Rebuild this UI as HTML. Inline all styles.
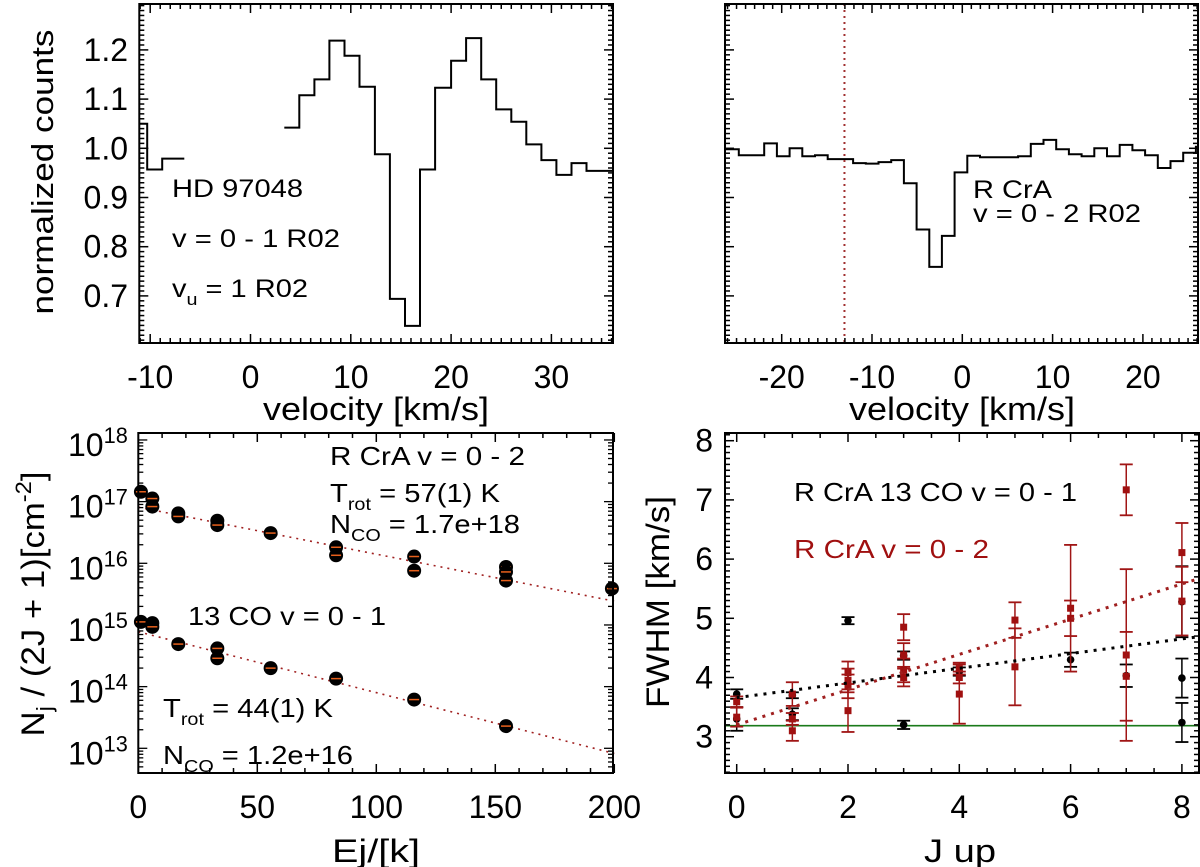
<!DOCTYPE html>
<html><head><meta charset="utf-8">
<style>
html,body{margin:0;padding:0;background:#fff;}
svg{display:block;font-family:"Liberation Sans",Arial,sans-serif;}
</style></head>
<body>
<svg id="fig" width="1200" height="867" viewBox="0 0 1200 867" xmlns="http://www.w3.org/2000/svg">
<g id="p1"></g>
<g id="p2"></g>
<g id="p3"></g>
<g id="p4"></g>
</svg>
<script>
// ---------- Panel 1 data (HD 97048) ----------
const p1SegAEdges = [-11.1, -10.3, -8.8, -6.6];
const p1SegAValues = [1.05, 0.957, 0.979];
const p1SegBEdges = [3.37, 4.87, 6.37, 7.87, 9.37, 10.87, 12.4, 13.9, 15.4, 16.9, 18.4, 20.0, 21.5, 23.0, 24.5, 26.0, 27.5, 29.0, 30.5, 32.0, 33.5, 36.1];
const p1SegBValues = [1.042, 1.108, 1.140, 1.219, 1.188, 1.125, 0.988, 0.694, 0.639, 0.957, 1.123, 1.178, 1.224, 1.140, 1.079, 1.054, 1.008, 0.976, 0.946, 0.970, 0.954];
const p1XTicks = [-10, 0, 10, 20, 30];
const p1YTicks = [0.7, 0.8, 0.9, 1.0, 1.1, 1.2];
// ---------- Panel 2 data (R CrA) ----------
const p2BinStart = -26.3;
const p2Values = [0.998, 0.986, 0.986, 1.010, 0.984, 1.0, 0.984, 0.986, 0.978, 0.978, 0.970, 0.969, 0.972, 0.976, 0.929, 0.835, 0.759, 0.822, 0.951, 0.985, 0.982, 0.982, 0.982, 0.984, 1.009, 1.017, 0.998, 0.988, 0.984, 1.0, 0.984, 1.007, 0.996, 0.986, 0.960, 0.974, 0.991, 1.003];
const p2BinEdgeFirst = -24.75;
const p2BinWidth = 1.406;
const p2MarkerV = -13.05;
const p2XTicks = [-20, -10, 0, 10, 20];
// ---------- Panel 3 data (rotation diagram) ----------
const p3UpperE = [1.1, 5.9, 5.9, 16.8, 16.8, 33.2, 33.2, 55.6, 83.1, 83.1, 115.9, 115.9, 154.5, 154.5, 154.5, 199];
const p3UpperLogN = [17.16, 17.05, 16.92, 16.81, 16.76, 16.69, 16.62, 16.49, 16.26, 16.13, 16.11, 15.88, 15.94, 15.86, 15.72, 15.59];
const p3LowerE = [1.1, 5.9, 5.9, 16.8, 33.2, 33.2, 55.6, 83.1, 115.9, 154.5];
const p3LowerLogN = [15.05, 15.03, 14.97, 14.69, 14.62, 14.46, 14.30, 14.13, 13.79, 13.36];
const p3UpperFit = [16.91, 57];   // intercept log10 N, Trot
const p3LowerFit = [14.89, 44];
const p3XTicks = [0, 50, 100, 150, 200];
const p3YDecades = [13, 14, 15, 16, 17, 18];
// ---------- Panel 4 data (FWHM vs J) ----------
const p4BlackJ = [0, 0, 1, 1, 2, 3, 3, 4, 6, 7, 8, 8, 8];
const p4BlackFwhm = [3.72, 3.30, 3.38, 3.70, 4.96, 3.20, 4.37, 4.10, 4.30, 4.03, 3.99, 3.24, 5.28];
const p4BlackErr = [0.08, 0.20, 0.10, 0.05, 0.06, 0.07, 0.07, 0.07, 0.12, 0.19, 0.33, 0.33, 0.60];
const p4RedJ = [0, 0, 1, 1, 1, 2, 2, 2, 2, 3, 3, 3, 3, 4, 4, 4, 5, 5, 6, 6, 7, 7, 7, 8, 8];
const p4RedFwhm = [3.59, 3.33, 3.72, 3.30, 3.10, 4.08, 3.95, 3.85, 3.44, 4.85, 4.38, 4.12, 4.00, 4.15, 4.00, 3.72, 4.97, 4.18, 5.17, 5.00, 7.17, 4.38, 4.02, 6.11, 5.29];
const p4RedErr = [0.09, 0.16, 0.20, 0.10, 0.17, 0.19, 0.20, 0.20, 0.36, 0.22, 0.20, 0.20, 0.15, 0.10, 0.10, 0.50, 0.30, 0.65, 1.07, 0.30, 0.43, 1.45, 0.75, 0.50, 0.58];
const p4BlackFit = [3.66, 0.124];  // intercept, slope
const p4RedFit = [3.20, 0.2975];
const p4Green = [3.186];
const p4XTicks = [0, 2, 4, 6, 8];
const p4YTicks = [3, 4, 5, 6, 7, 8];

const NS = "http://www.w3.org/2000/svg";
function mk(parent, tag, attrs, text){
  const e = document.createElementNS(NS, tag);
  for (const k in attrs) e.setAttribute(k, attrs[k]);
  if (text !== undefined) e.textContent = text;
  parent.appendChild(e);
  return e;
}
function lin(d0, d1, r0, r1){ return v => r0 + (v - d0) * (r1 - r0) / (d1 - d0); }

function frame(g, L, T, R, B){
  const f = mk(g, 'rect', {x:L, y:T, width:R-L, height:B-T, fill:'none', stroke:'#000', 'stroke-width':2});
  
  
}
function xticks(g, sx, T, B, lo, hi, major, minor, labels, labelY, fmt){
  const gt = mk(g, 'g', {});
  
  
  for (let v = Math.ceil(lo / minor) * minor; v <= hi + 1e-9; v += minor){
    const isMaj = Math.abs(v / major - Math.round(v / major)) < 1e-6;
    const len = isMaj ? 9 : 5; const x = sx(v);
    mk(gt, 'line', {x1:x, x2:x, y1:B, y2:B-len, stroke:'#000', 'stroke-width':1.5});
    mk(gt, 'line', {x1:x, x2:x, y1:T, y2:T+len, stroke:'#000', 'stroke-width':1.5});
  }
  labels.forEach(v => {
    const t = mk(gt, 'text', {x:sx(v), y:labelY, 'font-size':32, 'text-anchor':'middle'}, fmt ? fmt(v) : String(v));
    
    
  });
}
function yticks(g, sy, L, R, lo, hi, major, minor, labels, labelX, fmt){
  const gt = mk(g, 'g', {});
  
  
  for (let v = Math.ceil(lo / minor) * minor; v <= hi + 1e-9; v += minor){
    const isMaj = Math.abs(v / major - Math.round(v / major)) < 1e-6;
    const len = isMaj ? 9 : 5; const y = sy(v);
    mk(gt, 'line', {x1:L, x2:L+len, y1:y, y2:y, stroke:'#000', 'stroke-width':1.5});
    mk(gt, 'line', {x1:R, x2:R-len, y1:y, y2:y, stroke:'#000', 'stroke-width':1.5});
  }
  if (labels) labels.forEach(v => {
    const t = mk(gt, 'text', {x:labelX, y:sy(v)+11, 'font-size':32, 'text-anchor':'end'}, fmt ? fmt(v) : String(v));
    
    
  });
}
function stepPath(edges, vals, sx, sy){
  let d = '';
  for (let i = 0; i < vals.length; i++){
    const x0 = sx(edges[i]), x1 = sx(edges[i+1]), y = sy(vals[i]);
    d += (i === 0 ? 'M' : 'L') + x0.toFixed(1) + ',' + y.toFixed(1) + 'L' + x1.toFixed(1) + ',' + y.toFixed(1);
  }
  return d;
}
function label(g, x, y, size, parts, len, fill, name, anchor){
  const t = mk(g, 'text', {x:x, y:y, 'font-size':size, fill:fill || '#000'});
  if (anchor) t.setAttribute('text-anchor', anchor);
  if (len) { t.setAttribute('textLength', len); t.setAttribute('lengthAdjust', 'spacingAndGlyphs'); }
  
  
  parts.forEach(p => {
    const s = mk(t, 'tspan', {}, p[0]);
    if (p[1] === 'sub') { s.setAttribute('dy', 8); s.setAttribute('font-size', size * 0.68); }
    if (p[1] === 'sup') { s.setAttribute('dy', -13); s.setAttribute('font-size', size * 0.68); }
    if (p[1] === 'back') { s.setAttribute('dy', -8); }
    if (p[1] === 'backsup') { s.setAttribute('dy', 13); }
  });
  return t;
}

// ===== Panel 1 =====
(function(){
  const g = document.getElementById('p1');
  const L = 139.3, R = 613, T = 4, B = 343;
  const sx = lin(0, 10, 250.5, 350.8);
  const sy = lin(1.0, 1.1, 148.3, 99.1);
  const s1 = mk(g, 'path', {d:stepPath(p1SegAEdges, p1SegAValues, sx, sy), fill:'none', stroke:'#000', 'stroke-width':2});
  
  
  const s2 = mk(g, 'path', {d:stepPath(p1SegBEdges, p1SegBValues, sx, sy), fill:'none', stroke:'#000', 'stroke-width':2});
  
  
  frame(g, L, T, R, B);
  xticks(g, sx, T, B, -11, 36, 10, 1, p1XTicks, 388);
  yticks(g, sy, L, R, 0.61, 1.29, 0.1, 0.01, p1YTicks, 128, v => v.toFixed(1));
  label(g, 376, 420, 32, [['velocity [km/s]']], 226, null, 'x-axis-title', 'middle');
  const yl = label(g, 0, 0, 31, [['normalized counts']], 285, null, 'y-axis-title', 'middle');
  yl.setAttribute('transform', 'translate(53,172) rotate(-90)');
  label(g, 172, 197, 25, [['HD 97048']], 131, null, 'star-name-label');
  label(g, 172, 247, 25, [['v = 0 - 1 R02']], 168, null, 'transition-label');
  label(g, 172, 297, 25, [['v'], ['u', 'sub'], [' = 1 R02', 'back']], 136, null, 'upper-level-label');
})();

// ===== Panel 2 =====
(function(){
  const g = document.getElementById('p2');
  const L = 725, R = 1198, T = 4, B = 343;
  const sx = lin(0, 10, 962.3, 1052.6);
  const sy = lin(1.0, 1.1, 148.3, 99.1);
  const edges = [p2BinStart];
  for (let i = 0; i < p2Values.length - 1; i++) edges.push(Math.min(p2BinEdgeFirst + i * p2BinWidth, 26.1));
  edges.push(26.1);
  const s = mk(g, 'path', {d:stepPath(edges, p2Values, sx, sy), fill:'none', stroke:'#000', 'stroke-width':2});
  
  
  const m = mk(g, 'line', {x1:sx(p2MarkerV), x2:sx(p2MarkerV), y1:T, y2:B, stroke:'#a03030', 'stroke-width':2, 'stroke-dasharray':'2,4'});
  
  
  frame(g, L, T, R, B);
  xticks(g, sx, T, B, -26, 26, 10, 1, p2XTicks, 388);
  yticks(g, sy, L, R, 0.61, 1.29, 0.1, 0.01, null, 0);
  label(g, 962, 420, 32, [['velocity [km/s]']], 226, null, 'x-axis-title', 'middle');
  label(g, 973, 198, 25, [['R CrA']], 79, null, 'star-name-label');
  label(g, 973, 222, 25, [['v = 0 - 2 R02']], 168, null, 'transition-label');
})();

// ===== Panel 3 =====
(function(){
  const g = document.getElementById('p3');
  const L = 138.3, R = 613, T = 433, B = 773;
  const sx = lin(0, 50, 138.3, 257.3);
  const sy = lin(13, 16, 748.3, 563.3);
  const yLo = 12.6, yHi = 18.11;
  const fitLine = (fit, name) => {
    const f = v => fit[0] - 0.4343 * v / fit[1];
    const l = mk(g, 'line', {x1:sx(0), y1:sy(f(0)), x2:sx(200), y2:sy(f(200)), stroke:'#a02020', 'stroke-width':1.6, 'stroke-dasharray':'2,5'});
    
    
  };
  fitLine(p3UpperFit, 'fit-line-v02');
  fitLine(p3LowerFit, 'fit-line-13co');
  const pts = (E, N, name) => E.forEach((e, i) => {
    const x = sx(e), y = sy(N[i]);
    const c = mk(g, 'circle', {cx:x, cy:y, r:7, fill:'#000'});
    
    
    mk(g, 'line', {x1:x-5, x2:x+5, y1:y, y2:y, stroke:'#e8601c', 'stroke-width':1.5});
  });
  pts(p3UpperE, p3UpperLogN, 'point-v02');
  pts(p3LowerE, p3LowerLogN, 'point-13co');
  frame(g, L, T, R, B);
  xticks(g, sx, T, B, 0, 200, 50, 10, p3XTicks, 818);
  const gt = mk(g, 'g', {});
  
  
  for (let d = 12; d <= 18; d++){
    for (let k = 1; k <= 9; k++){
      const v = d + Math.log10(k);
      if (v < yLo || v > yHi) continue;
      const len = k === 1 ? 9 : 5; const y = sy(v);
      mk(gt, 'line', {x1:L, x2:L+len, y1:y, y2:y, stroke:'#000', 'stroke-width':1.3});
      mk(gt, 'line', {x1:R, x2:R-len, y1:y, y2:y, stroke:'#000', 'stroke-width':1.3});
    }
  }
  p3YDecades.forEach(d => {
    const t = label(gt, 68, sy(d)+16, 32, [['10'], [String(d), 'sup']], null, null, 'y-tick-label');
  });
  label(g, 376, 862, 32, [['Ej/[k]']], 88, null, 'x-axis-title', 'middle');
  const yl = label(g, 0, 0, 32, [['N'], ['j', 'sub'], [' / (2J + 1)[cm', 'back'], ['-2', 'sup'], [']', 'backsup']], 265, null, 'y-axis-title', 'middle');
  yl.setAttribute('transform', 'translate(44,604) rotate(-90)');
  label(g, 330, 465, 26, [['R CrA v = 0 - 2']], 195, null, 'label-v02');
  label(g, 330, 502, 26, [['T'], ['rot', 'sub'], [' = 57(1) K', 'back']], 170, null, 'trot-v02');
  label(g, 330, 533, 26, [['N'], ['CO', 'sub'], [' = 1.7e+18', 'back']], 190, null, 'nco-v02');
  label(g, 188, 625, 26, [['13 CO v = 0 - 1']], 198, null, 'label-13co');
  label(g, 163, 717, 26, [['T'], ['rot', 'sub'], [' = 44(1) K', 'back']], 170, null, 'trot-13co');
  label(g, 163, 764, 26, [['N'], ['CO', 'sub'], [' = 1.2e+16', 'back']], 190, null, 'nco-13co');
})();

// ===== Panel 4 =====
(function(){
  const g = document.getElementById('p4');
  const L = 725, R = 1199, T = 433, B = 773;
  const sx = lin(0, 2, 736.7, 848.0);
  const sy = lin(3, 4, 736.7, 677.5);
  const x0 = -0.21, x1 = 8.31;
  const gl = mk(g, 'line', {x1:sx(x0), x2:sx(x1), y1:sy(p4Green[0]), y2:sy(p4Green[0]), stroke:'#1a7a1a', 'stroke-width':1.6});
  
  
  const fit = (f, col, name) => {
    const l = mk(g, 'line', {x1:sx(0), y1:sy(f[0]), x2:sx(x1), y2:sy(f[0] + f[1] * x1), stroke:col, 'stroke-width':3, 'stroke-dasharray':'3,6'});
    
    
  };
  const errbar = (x, y, e, col) => {
    mk(g, 'line', {x1:sx(x), x2:sx(x), y1:sy(y-e), y2:sy(y+e), stroke:col, 'stroke-width':1.5});
    mk(g, 'line', {x1:sx(x)-6.5, x2:sx(x)+6.5, y1:sy(y-e), y2:sy(y-e), stroke:col, 'stroke-width':1.8});
    mk(g, 'line', {x1:sx(x)-6.5, x2:sx(x)+6.5, y1:sy(y+e), y2:sy(y+e), stroke:col, 'stroke-width':1.8});
  };
  p4BlackJ.forEach((j, i) => {
    errbar(j, p4BlackFwhm[i], p4BlackErr[i], '#000');
    const c = mk(g, 'circle', {cx:sx(j), cy:sy(p4BlackFwhm[i]), r:3.8, fill:'#000'});
    
    
  });
  p4RedJ.forEach((j, i) => {
    errbar(j, p4RedFwhm[i], p4RedErr[i], '#a01515');
    const r = mk(g, 'rect', {x:sx(j)-3.5, y:sy(p4RedFwhm[i])-3.5, width:7, height:7, fill:'#a01010'});
    
    
  });
  fit(p4BlackFit, '#000', 'fit-line-13co');
  fit(p4RedFit, '#a02020', 'fit-line-v02');
  frame(g, L, T, R, B);
  xticks(g, sx, T, B, 0, 8.3, 2, 0.5, p4XTicks, 818);
  yticks(g, sy, L, R, 2.4, 8.1, 1, 0.1, p4YTicks, 713);
  label(g, 960, 862, 32, [['J up']], 72, null, 'x-axis-title', 'middle');
  const yl = label(g, 0, 0, 32, [['FWHM [km/s]']], 212, null, 'y-axis-title', 'middle');
  yl.setAttribute('transform', 'translate(669,602) rotate(-90)');
  label(g, 794, 501, 26, [['R CrA 13 CO v = 0 - 1']], 283, null, 'legend-13co');
  label(g, 794, 558, 26, [['R CrA v = 0 - 2']], 195, '#a01010', 'legend-v02');
})();
</script>
</body></html>
